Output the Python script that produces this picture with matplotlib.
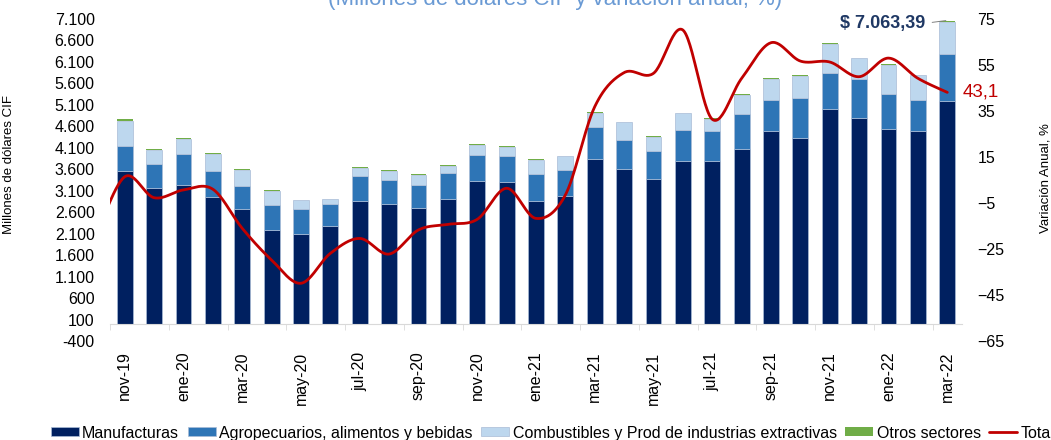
import numpy as np
import matplotlib
matplotlib.use("Agg")
import matplotlib.pyplot as plt
from matplotlib.ticker import FuncFormatter, FixedLocator

plt.rcParams['font.family'] = ['Liberation Sans', 'DejaVu Sans']

# monthly categories nov-19 .. mar-22
meses = ['nov-19', 'dic-19', 'ene-20', 'feb-20', 'mar-20', 'abr-20', 'may-20', 'jun-20',
         'jul-20', 'ago-20', 'sep-20', 'oct-20', 'nov-20', 'dic-20', 'ene-21', 'feb-21',
         'mar-21', 'abr-21', 'may-21', 'jun-21', 'jul-21', 'ago-21', 'sep-21', 'oct-21',
         'nov-21', 'dic-21', 'ene-22', 'feb-22', 'mar-22']

manufacturas = [3558, 3170, 3240, 2961, 2682, 2194, 2101, 2287, 2868, 2798, 2705, 2914, 3318, 3310,
                2860, 2984, 3829, 3612, 3380, 3798, 3798, 4077, 4496, 4333, 5008, 4791, 4542, 4496, 5186]
agro = [582, 543, 706, 597, 527, 573, 581, 496, 574, 551, 528, 598, 612, 597,
        621, 590, 760, 667, 635, 721, 698, 799, 721, 923, 837, 914, 814, 721, 1100]
combustibles = [588, 341, 356, 395, 372, 334, 194, 116, 194, 217, 240, 170, 233, 209,
                333, 325, 326, 411, 326, 380, 271, 457, 488, 519, 682, 481, 683, 574, 737]
otros = [32, 23, 24, 24, 24, 15, 15, 16, 15, 15, 15, 16, 23, 16,
         23, 16, 15, 15, 23, 23, 24, 16, 16, 16, 23, 16, 16, 9, 40]

# annual variation of total, % (first value is oct-19, off the left edge)
var_meses = ['oct-19'] + meses
var_total = [-20.0, 6.4, -2.7, 0.7, 1.0, -16.0, -29.8, -39.9, -26.9, -20.4, -27.2, -16.7, -14.3,
             -12.1, 1.4, -11.7, -1.5, 36.9, 51.7, 51.4, 70.2, 31.4, 49.2, 64.7, 56.7, 56.3,
             49.9, 58.0, 49.2, 43.1]

total_ultimo = 7063.39

c_man = '#002060'
c_agro = '#2E75B6'
c_comb = '#BDD7EE'
c_otros = '#70AD47'
c_total = '#C00000'


def smooth(xs, ys, n=30):
    # cardinal (Catmull-Rom) spline like the spreadsheet "smoothed line"
    p = np.column_stack([xs, ys]).astype(float)
    p = np.vstack([p[0], p, p[-1]])
    out = []
    for i in range(1, len(p) - 2):
        p0, p1, p2, p3 = p[i - 1], p[i], p[i + 1], p[i + 2]
        b1 = p1 + (p2 - p0) / 6
        b2 = p2 - (p3 - p1) / 6
        t = np.linspace(0, 1, n)[:, None]
        seg = ((1 - t) ** 3) * p1 + 3 * ((1 - t) ** 2) * t * b1 + 3 * (1 - t) * t ** 2 * b2 + t ** 3 * p2
        out.append(seg)
    out = np.vstack(out)
    return out[:, 0], out[:, 1]


fig = plt.figure(figsize=(10.51, 4.40), dpi=100)
ax = fig.add_axes([110 / 1051, 99 / 440, 852 / 1051, 322 / 440])

x = np.arange(len(meses))
w = 0.54
edge = dict(edgecolor='#A9BCD6', linewidth=0.5)
b0 = np.zeros(len(meses))
h1 = ax.bar(x, manufacturas, w, bottom=b0, color=c_man, label='Manufacturas', **edge)
b0 = b0 + manufacturas
h2 = ax.bar(x, agro, w, bottom=b0, color=c_agro, label='Agropecuarios, alimentos y bebidas', **edge)
b0 = b0 + agro
h3 = ax.bar(x, combustibles, w, bottom=b0, color=c_comb, label='Combustibles y Prod de industrias extractivas', **edge)
b0 = b0 + combustibles
h4 = ax.bar(x, otros, w, bottom=b0, color=c_otros, label='Otros sectores', edgecolor='none')

ax.set_xlim(-0.5, len(meses) - 0.5)
ax.set_ylim(-400, 7100)
ax.set_yticks(np.arange(-400, 7101, 500))
ax.yaxis.set_major_formatter(FuncFormatter(lambda v, p: f'{int(v):,}'.replace(',', '.')))
ax.tick_params(axis='y', length=0, pad=11, labelsize=11.5)

for s in ['top', 'right', 'left']:
    ax.spines[s].set_visible(False)
ax.spines['bottom'].set_position(('data', 0))
ax.spines['bottom'].set_color('#D9D9D9')
ax.set_xticks(x[::2])
ax.set_xticklabels(meses[::2], rotation=90)
ax.xaxis.set_minor_locator(FixedLocator(np.arange(-0.5, len(meses) - 1, 2)))
ax.tick_params(axis='x', which='major', length=0, pad=20, labelsize=11.5)
ax.tick_params(axis='x', which='minor', length=4, color='#D9D9D9', direction='out')
ax.set_ylabel('Millones de dólares CIF', fontsize=9.5)
ax.yaxis.set_label_coords(-94.5 / 852, (341 - 164) / 322)

ax2 = ax.twinx()
lx, ly = smooth(np.arange(-1, len(meses)), var_total)
l1, = ax2.plot(lx, ly, color=c_total, lw=2.0, label='Total', solid_capstyle='round')
ax2.set_ylim(-65, 75)
ax2.set_yticks(np.arange(-65, 76, 20))
ax2.set_xlim(-0.5, len(meses) - 0.5)
ax2.tick_params(axis='y', length=0, pad=11, labelsize=11.5)
for s in ['top', 'right', 'left', 'bottom']:
    ax2.spines[s].set_visible(False)
ax2.set_ylabel('Variación Anual, %', fontsize=9.5)
ax2.yaxis.set_label_coords(1 + 77 / 852, (341 - 178) / 322)

ax2.text(len(meses) - 0.5 + 0.02, var_total[-1], f'{var_total[-1]:.1f}'.replace('.', ','),
         color=c_total, fontsize=13.5, ha='left', va='center', clip_on=False)

ax.annotate(f'$ {total_ultimo:,.2f}'.replace(',', 'X').replace('.', ',').replace('X', '.'),
            xy=(len(meses) - 1.05, total_ultimo), xytext=(len(meses) - 1.75, 7000),
            ha='right', va='center', fontsize=13, fontweight='bold', color='#1F3864',
            arrowprops=dict(arrowstyle='-', color='#808080', lw=0.7, relpos=(1, 0.5),
                            shrinkA=3, shrinkB=0))

fig.text(555 / 1051, 1 - 10 / 440, '(Millones de dólares CIF y variación anual, %)',
         ha='center', va='bottom', fontsize=16, color='#6A9AD4')

fig.legend([h1, h2, h3, h4, l1],
           ['Manufacturas', 'Agropecuarios, alimentos y bebidas',
            'Combustibles y Prod de industrias extractivas', 'Otros sectores', 'Total'],
           ncol=5, loc='center left', bbox_to_anchor=(51 / 1051, 7 / 440), frameon=False,
           fontsize=11.5, handlelength=1.75, handleheight=0.5, handletextpad=0.2,
           columnspacing=0.55, borderpad=0, borderaxespad=0)

fig.savefig('out.png', dpi=100)
